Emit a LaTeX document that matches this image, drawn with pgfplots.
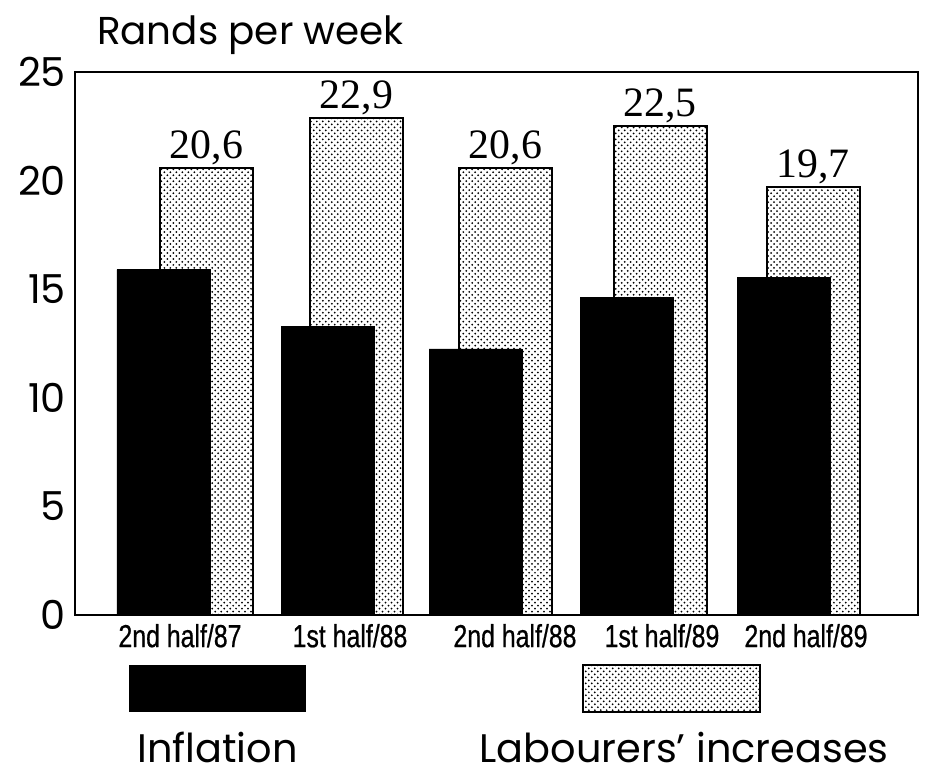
\documentclass[border=0pt]{standalone}
\usepackage{fontspec}
\setmainfont{Poppins}
\newfontfamily\condfont[FakeStretch=0.78,FakeBold=0.6]{Liberation Sans}
\newfontfamily\serifnum{Liberation Serif}
\usepackage{pgfplots}
\pgfplotsset{compat=1.18}
\usepackage{pgfplotstable}
\usetikzlibrary{patterns}

\pgfplotstableread{
x y
0.885 15.9
2.525 13.3
4.005 12.25
5.520 14.6
7.085 15.55
}\inflation

\pgfplotstableread{
x y lab
1.315 20.6 20,6
2.815 22.9 22,9
4.305 20.6 20,6
5.850 22.5 22,5
7.380 19.7 19,7
}\labour

\begin{document}
\begin{tikzpicture}
\begin{axis}[
  name=ax,
  scale only axis,
  width=421.5bp, height=271.5bp,
  xmin=0, xmax=8.43, ymin=0, ymax=25,
  ytick={0,5,10,15,20,25},
  xtick={1.05,2.75,4.40,5.87,7.31},
  xticklabels={2nd half/87,1st half/88,2nd half/88,1st half/89,2nd half/89},
  major tick length=0pt,
  axis line style={line width=1.2bp},
  ybar, bar width=0.93,
  clip=false,
  /pgf/number format/assume math mode=true,
  yticklabel style={font=\fontsize{20}{20}\selectfont, xshift=-1bp},
  xticklabel style={font=\condfont\fontsize{16}{16}\selectfont, yshift=-1bp},
]
\addplot[bar shift=0pt, draw=black, line width=1bp, fill=white,
  pattern=crosshatch dots, pattern color=black,
  point meta=explicit symbolic, nodes near coords,
  nodes near coords style={font=\serifnum\fontsize{21}{21}\selectfont, anchor=south, inner sep=1bp, text=black}]
  table[x=x, y=y, meta=lab]{\labour};
\addplot[bar shift=0pt, fill=black, draw=black] table[x=x, y=y]{\inflation};
\node[anchor=base west, font=\fontsize{19.5}{20}\selectfont, xshift=7.5bp, yshift=13.5bp] at (rel axis cs:0,1) {Rands per week};
\end{axis}
\fill[black] ([shift={(27bp,-25bp)}]ax.south west) rectangle ++(88.5bp,-23.5bp);
\draw[line width=1bp, pattern=crosshatch dots, pattern color=black] ([shift={(254bp,-25bp)}]ax.south west) rectangle ++(88.5bp,-23.5bp);
\node[anchor=base, font=\fontsize{20}{20}\selectfont] at ([shift={(71.25bp,-73.5bp)}]ax.south west) {Inflation};
\node[anchor=base, font=\fontsize{20}{20}\selectfont] at ([shift={(304.5bp,-73.5bp)}]ax.south west) {Labourers’ increases};
\path ([shift={(-37.5bp,-79bp)}]ax.south west) rectangle ([shift={(5bp,36bp)}]ax.north east);
\end{tikzpicture}
\end{document}
